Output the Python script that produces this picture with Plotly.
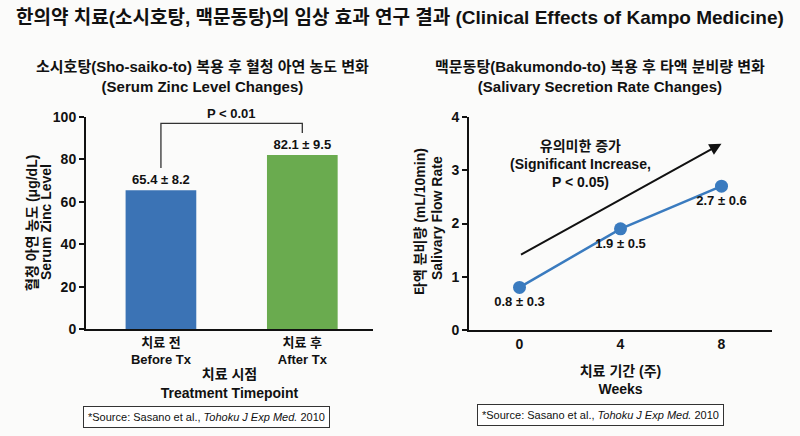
import plotly.graph_objects as go

# left chart: serum zinc
zinc_cats = ['치료 전<br>Before Tx', '치료 후<br>After Tx']
zinc_mean = [65.4, 82.1]
zinc_sd = [8.2, 9.5]
zinc_colors = ['#3b73b5', '#6aab4f']

# right chart: salivary flow
weeks = [0, 4, 8]
flow_mean = [0.8, 1.9, 2.7]
flow_sd = [0.3, 0.5, 0.6]

# trend arrow (start / end in data units)
arrow_x = [0, 8]
arrow_y = [1.4, 3.5]

FONT = 'Liberation Sans, Arial, Noto Sans CJK KR, sans-serif'
BG = '#fbfbfa'
W, H = 800, 436

fig = go.Figure()

fig.add_trace(go.Bar(
    x=[0, 1], y=zinc_mean, width=0.5,
    marker=dict(color=zinc_colors, line=dict(width=0)),
    text=[f'<b>{m} ± {s}</b>' for m, s in zip(zinc_mean, zinc_sd)],
    textposition='outside', textfont=dict(size=13, color='#111'),
    cliponaxis=False, xaxis='x', yaxis='y', showlegend=False,
))

fig.add_trace(go.Scatter(
    x=weeks, y=flow_mean, mode='lines+markers+text',
    line=dict(color='#3a7bbf', width=2.5),
    marker=dict(size=13, color='#3a7bbf'),
    text=[f'<b>{m} ± {s}</b>' for m, s in zip(flow_mean, flow_sd)],
    textposition='bottom center', textfont=dict(size=13, color='#111'),
    cliponaxis=False, xaxis='x2', yaxis='y2', showlegend=False,
))

line_style = dict(showline=True, linecolor='#111', linewidth=2, showgrid=False,
                  zeroline=False, automargin=False)

fig.update_layout(
    width=W, height=H, margin=dict(l=0, r=0, t=0, b=0),
    paper_bgcolor=BG, plot_bgcolor=BG,
    font=dict(family=FONT, color='#111'),
    xaxis=dict(domain=[86 / W, 373 / W], range=[-0.53, 1.5], anchor='y',
               tickvals=[0, 1], ticktext=[f'<b>{c}</b>' for c in zinc_cats],
               ticks='', tickfont=dict(size=13),
               title=dict(text='<b>치료 시점<br>Treatment Timepoint</b>',
                          font=dict(size=14), standoff=1),
               **line_style),
    yaxis=dict(domain=[(H - 329) / H, (H - 117) / H], range=[0, 100], anchor='x',
               tickvals=[0, 20, 40, 60, 80, 100], ticktext=['<b>%d</b>' % v for v in [0, 20, 40, 60, 80, 100]],
               ticks='outside', ticklen=5, tickwidth=2, tickcolor='#111', tickfont=dict(size=14),
               **line_style),
    xaxis2=dict(domain=[469 / W, 772 / W], range=[-2, 10], anchor='y2',
                tickvals=weeks, ticktext=['<b>%d</b>' % w for w in weeks], ticks='',
                tickfont=dict(size=14),
                title=dict(text='<b>치료 기간 (주)<br>Weeks</b>', font=dict(size=14), standoff=15),
                **line_style),
    yaxis2=dict(domain=[(H - 330) / H, (H - 117) / H], range=[0, 4], anchor='x2',
                tickvals=[0, 1, 2, 3, 4], ticktext=['<b>%d</b>' % v for v in range(5)],
                ticks='outside', ticklen=5, tickwidth=2, tickcolor='#111', tickfont=dict(size=14),
                **line_style),
)

# significance bracket over the bars
leg_l = zinc_mean[0] + 10.6
leg_r = zinc_mean[1] + 10.4
top = 97
fig.add_shape(type='path', xref='x', yref='y',
              path=f'M 0 {leg_l} L 0 {top} L 1 {top} L 1 {leg_r}',
              line=dict(color='#333', width=1.3))

src = '*Source: Sasano et al., <i>Tohoku J Exp Med.</i> 2010'
annots = [
    dict(text='<b>한의약 치료(소시호탕, 맥문동탕)의 임상 효과 연구 결과 (Clinical Effects of Kampo Medicine)</b>',
         x=14, y=18, xanchor='left', font=dict(size=19)),
    dict(text='<b>소시호탕(Sho-saiko-to) 복용 후 혈청 아연 농도 변화<br>(Serum Zinc Level Changes)</b>',
         x=203, y=76, font=dict(size=15)),
    dict(text='<b>맥문동탕(Bakumondo-to) 복용 후 타액 분비량 변화<br>(Salivary Secretion Rate Changes)</b>',
         x=600, y=76, font=dict(size=15)),
    # y-axis titles, one annotation per line for tight spacing
    dict(text='<b>혈청 아연 농도 (μg/dL)</b>', x=32, y=223, textangle=-90, font=dict(size=14)),
    dict(text='<b>Serum Zinc Level</b>', x=46, y=222, textangle=-90, font=dict(size=14)),
    dict(text='<b>타액 분비량 (mL/10min)</b>', x=420, y=222, textangle=-90, font=dict(size=14)),
    dict(text='<b>Salivary Flow Rate</b>', x=437, y=218, textangle=-90, font=dict(size=14)),
    dict(text=src, x=206, y=417, font=dict(size=11),
         bordercolor='#333', borderwidth=1, borderpad=4, bgcolor='white'),
    dict(text=src, x=600, y=415, font=dict(size=11),
         bordercolor='#333', borderwidth=1, borderpad=4, bgcolor='white'),
]
for a in annots:
    a['x'] = a['x'] / W
    a['y'] = 1 - a['y'] / H
    a.setdefault('xanchor', 'center')
    fig.add_annotation(xref='paper', yref='paper', yanchor='middle', showarrow=False, **a)

# p-value label sits just above the top of the axis
fig.add_annotation(xref='x', yref='y', x=0.5, y=100, yanchor='middle', yshift=4,
                   text='<b>P < 0.01</b>', showarrow=False, font=dict(size=13))

# trend arrow and its label
fig.add_annotation(xref='x2', yref='y2', axref='x2', ayref='y2',
                   x=arrow_x[1], y=arrow_y[1], ax=arrow_x[0], ay=arrow_y[0],
                   showarrow=True, arrowhead=2, arrowsize=1.2, arrowwidth=2, arrowcolor='#111', text='')
fig.add_annotation(xref='x2', yref='y2', x=2.4, y=3.12,
                   text='<b>유의미한 증가<br>(Significant Increase,<br>P < 0.05)</b>',
                   showarrow=False, font=dict(size=14))

fig.write_html('out.html', config={'displayModeBar': False},
               post_script="document.body.style.margin='0';")
